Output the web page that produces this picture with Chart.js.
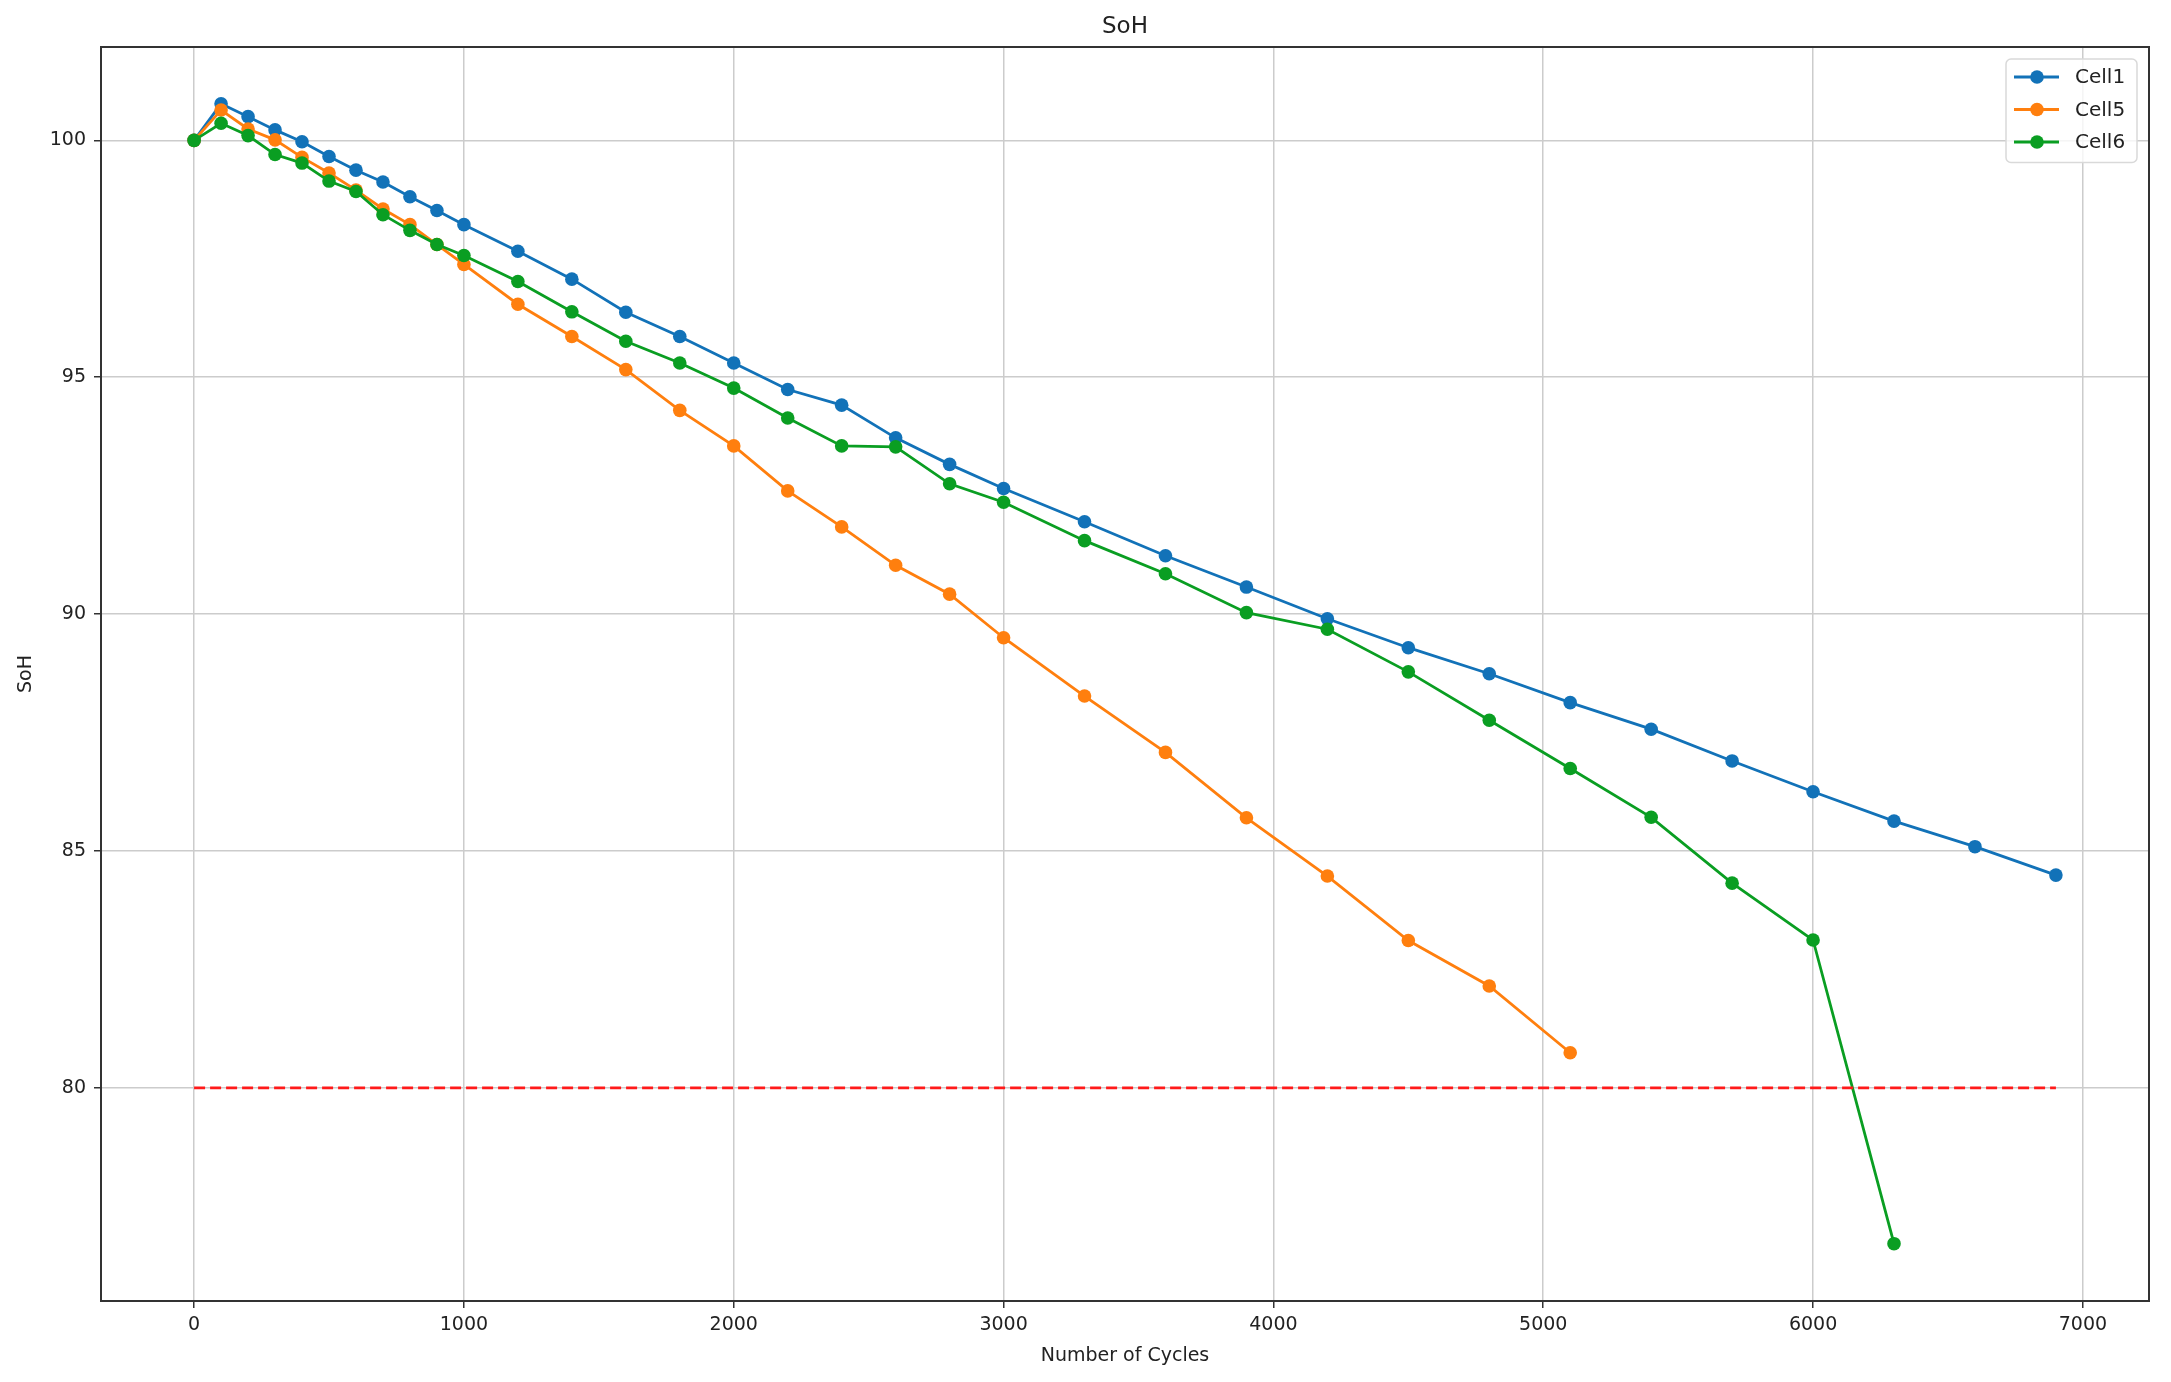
<!DOCTYPE html>
<html>
<head>
<meta charset="utf-8">
<title>SoH</title>
<script src="https://cdn.jsdelivr.net/npm/chart.js@4.4.1/dist/chart.umd.min.js"></script>
<style>
  html, body { margin: 0; padding: 0; background: #fff; }
  #wrap { width: 2171px; height: 1382px; }
</style>
</head>
<body>
<div id="wrap"><canvas id="grafico" width="2171" height="1382"></canvas></div>
<script>
// === DADOS ===
const cell1Cycles = [0, 100, 200, 300, 400, 500, 600, 700, 800, 900, 1000, 1200, 1400, 1600, 1800, 2000, 2200, 2400, 2600, 2800, 3000, 3300, 3600, 3900, 4200, 4500, 4800, 5100, 5400, 5700, 6000, 6300, 6600, 6900];
const cell1SoH = [100, 100.77, 100.5, 100.22, 99.97, 99.66, 99.37, 99.12, 98.81, 98.52, 98.22, 97.66, 97.07, 96.37, 95.86, 95.30, 94.74, 94.41, 93.72, 93.16, 92.65, 91.95, 91.23, 90.57, 89.90, 89.29, 88.74, 88.13, 87.57, 86.90, 86.25, 85.63, 85.09, 84.49];

const cell5Cycles = [0, 100, 200, 300, 400, 500, 600, 700, 800, 900, 1000, 1200, 1400, 1600, 1800, 2000, 2200, 2400, 2600, 2800, 3000, 3300, 3600, 3900, 4200, 4500, 4800, 5100];
const cell5SoH = [100, 100.64, 100.24, 100.01, 99.64, 99.31, 98.95, 98.55, 98.22, 97.8, 97.38, 96.54, 95.86, 95.16, 94.30, 93.55, 92.60, 91.84, 91.03, 90.42, 89.50, 88.27, 87.08, 85.70, 84.47, 83.11, 82.15, 80.74];

const cell6Cycles = [0, 100, 200, 300, 400, 500, 600, 700, 800, 900, 1000, 1200, 1400, 1600, 1800, 2000, 2200, 2400, 2600, 2800, 3000, 3300, 3600, 3900, 4200, 4500, 4800, 5100, 5400, 5700, 6000, 6300];
const cell6SoH = [100, 100.36, 100.1, 99.7, 99.52, 99.14, 98.92, 98.43, 98.1, 97.8, 97.57, 97.02, 96.38, 95.76, 95.30, 94.77, 94.14, 93.55, 93.53, 92.75, 92.36, 91.55, 90.85, 90.03, 89.68, 88.78, 87.76, 86.74, 85.71, 84.32, 83.12, 76.71];

const limitCycles = [0, 6900];
const limitSoH = [80, 80];

const xTicks = [0, 1000, 2000, 3000, 4000, 5000, 6000, 7000];
const yTicks = [80, 85, 90, 95, 100];

const chartTitle = 'SoH';

const toPoints = (xs, ys) => xs.map((x, i) => ({ x, y: ys[i] }));

const FONT = "'DejaVu Sans', sans-serif";
const TEXT = '#222';

// === MOLDURA, TITULO + LEGENDA (estilo matplotlib) ===
const framePlugin = {
  id: 'frame',
  afterDatasetsDraw(chart) {
    const { ctx, chartArea: a } = chart;
    ctx.save();
    ctx.strokeStyle = '#333';
    ctx.lineWidth = 2;
    ctx.strokeRect(a.left, a.top, a.right - a.left, a.bottom - a.top);
    // titulo centrado sobre a area do grafico
    ctx.fillStyle = TEXT;
    ctx.font = '23px ' + FONT;
    ctx.textAlign = 'center';
    ctx.textBaseline = 'middle';
    ctx.fillText(chartTitle, (a.left + a.right) / 2, 27);
    ctx.restore();
  }
};

const legendPlugin = {
  id: 'innerLegend',
  afterDraw(chart) {
    const { ctx, chartArea: a } = chart;
    const items = chart.data.datasets.filter(d => d.inLegend);
    const boxW = 131, rowH = 32.5;
    const boxH = items.length * rowH + 6;
    const x0 = a.right - 12 - boxW;
    const y0 = a.top + 12;
    ctx.save();
    ctx.fillStyle = 'rgba(255,255,255,0.8)';
    ctx.strokeStyle = '#d9d9d9';
    ctx.lineWidth = 1.5;
    ctx.beginPath();
    ctx.roundRect(x0, y0, boxW, boxH, 5);
    ctx.fill();
    ctx.stroke();
    ctx.font = '20px ' + FONT;
    ctx.textBaseline = 'middle';
    items.forEach((d, i) => {
      const cy = y0 + 18 + i * rowH;
      ctx.strokeStyle = d.borderColor;
      ctx.lineWidth = d.borderWidth;
      ctx.beginPath();
      ctx.moveTo(x0 + 8, cy);
      ctx.lineTo(x0 + 53, cy);
      ctx.stroke();
      ctx.fillStyle = d.pointBackgroundColor;
      ctx.beginPath();
      ctx.arc(x0 + 31, cy, d.pointRadius, 0, Math.PI * 2);
      ctx.fill();
      ctx.fillStyle = TEXT;
      ctx.fillText(d.label, x0 + 69, cy + 1);
    });
    ctx.restore();
  }
};

// === GRAFICO ===
function serie(label, xs, ys, color, order) {
  return {
    label,
    data: toPoints(xs, ys),
    borderColor: color,
    backgroundColor: color,
    pointBackgroundColor: color,
    pointBorderWidth: 0,
    pointRadius: 6.8,
    borderWidth: 2.8,
    order,
    inLegend: true
  };
}

const ctx = document.getElementById('grafico').getContext('2d');
new Chart(ctx, {
  type: 'line',
  data: {
    datasets: [
      serie('Cell1', cell1Cycles, cell1SoH, '#1272b8', 4),
      serie('Cell5', cell5Cycles, cell5SoH, '#ff7f0e', 3),
      serie('Cell6', cell6Cycles, cell6SoH, '#0a9e22', 2),
      {
        label: 'limit',
        data: toPoints(limitCycles, limitSoH),
        borderColor: '#ff1a1a',
        borderWidth: 2.8,
        borderDash: [11, 5],
        pointRadius: 0,
        order: 1
      }
    ]
  },
  options: {
    responsive: false,
    animation: false,
    devicePixelRatio: 1,
    layout: { padding: { left: 0, right: 22, top: 47, bottom: 0 } },
    plugins: {
      legend: { display: false },
      tooltip: { enabled: false },
      title: { display: false }
    },
    scales: {
      x: {
        type: 'linear',
        min: -345,
        max: 7245,
        afterBuildTicks: s => { s.ticks = xTicks.map(v => ({ value: v })); },
        afterFit: s => { s.height = 81; },
        ticks: {
          color: TEXT,
          font: { family: FONT, size: 19 },
          padding: 6,
          maxRotation: 0,
          callback: v => String(v)
        },
        grid: { color: '#cccccc', lineWidth: 1.5, tickLength: 7, tickColor: '#333', tickWidth: 1.5 },
        border: { display: false },
        title: {
          display: true,
          text: 'Number of Cycles',
          color: TEXT,
          font: { family: FONT, size: 19 },
          padding: { top: 0, bottom: 15 }
        }
      },
      y: {
        min: 75.5,
        max: 101.97,
        afterBuildTicks: s => { s.ticks = yTicks.map(v => ({ value: v })); },
        afterFit: s => { s.width = 101; },
        ticks: {
          color: TEXT,
          font: { family: FONT, size: 19 },
          padding: 8,
          callback: v => String(v)
        },
        grid: { color: '#cccccc', lineWidth: 1.5, tickLength: 7, tickColor: '#333', tickWidth: 1.5 },
        border: { display: false },
        title: {
          display: true,
          text: 'SoH',
          color: TEXT,
          font: { family: FONT, size: 19 },
          padding: { top: 15, bottom: 0 }
        }
      }
    }
  },
  plugins: [framePlugin, legendPlugin]
});
</script>
</body>
</html>
